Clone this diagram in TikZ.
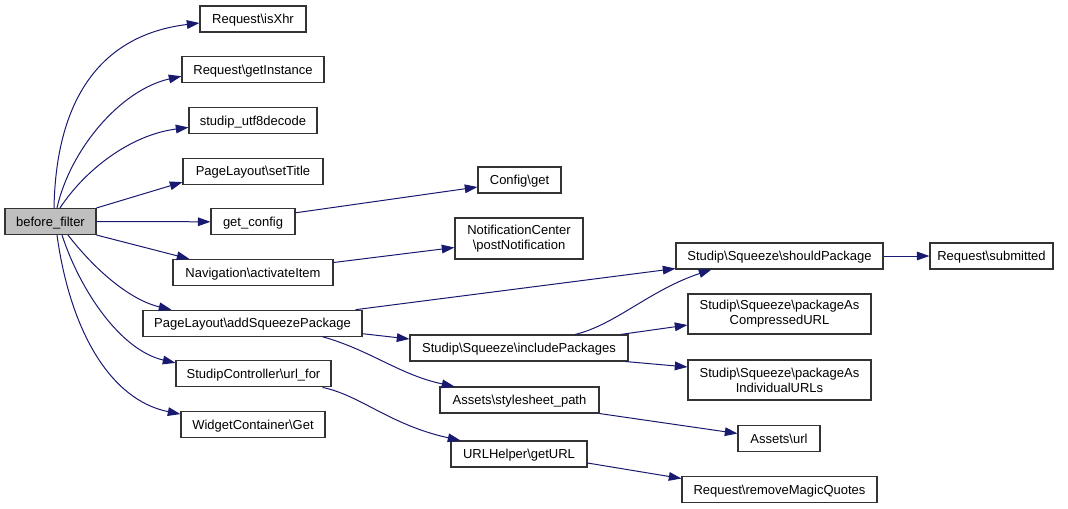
\documentclass[tikz,border=0pt]{standalone}
\usepackage{fontspec}
\setmainfont{Liberation Sans}
\usetikzlibrary{arrows.meta,calc}
\definecolor{edgec}{HTML}{191970}
\definecolor{bfgray}{HTML}{BFBFBF}
\newcommand{\bsl}{\textbackslash}
\begin{document}
\begin{tikzpicture}[x=0.75pt,y=-0.75pt,
  box/.style={draw=black!80, line width=0.8pt, inner sep=0pt, align=center,
    font=\fontsize{9.75}{11.2}\selectfont, minimum height=19.5pt},
  one/.style={box, text height=8pt, text depth=1pt},
  e/.style={draw=edgec, line width=0.75pt, -{Triangle[length=9.5pt,width=6.5pt]}, edgec}]
\useasboundingbox (0,0) rectangle (1068,508);
% nodes
\node[one, fill=bfgray, minimum width=68.25pt] (bf) at (50.5,221.5) {before\_filter};
\node[one, minimum width=79.5pt]  (isXhr) at (253,19) {Request\bsl isXhr};
\node[one, minimum width=106.5pt] (getInstance) at (253,69.7) {Request\bsl getInstance};
\node[one, minimum width=96pt]    (utf8) at (253,120.4) {studip\_utf8decode};
\node[one, minimum width=105pt]   (setTitle) at (253,171.1) {PageLayout\bsl setTitle};
\node[one, minimum width=63pt]    (getconfig) at (253,221.8) {get\_config};
\node[one, minimum width=120pt]   (activateItem) at (253,272.5) {Navigation\bsl activateItem};
\node[one, minimum width=164.25pt] (addSqueeze) at (252.5,323.2) {PageLayout\bsl addSqueezePackage};
\node[one, minimum width=116.25pt] (urlfor) at (253.5,373.9) {StudipController\bsl url\_for};
\node[one, minimum width=108pt]   (widget) at (253,424.6) {WidgetContainer\bsl Get};
\node[one, minimum width=62.25pt] (configget) at (519.5,180) {Config\bsl get};
\node[box, minimum width=96pt, minimum height=30.75pt] (postnotif) at (519,238.5) {NotificationCenter\\\bsl postNotification};
\node[one, minimum width=163.5pt] (include) at (519,348) {Studip\bsl Squeeze\bsl includePackages};
\node[one, minimum width=119.25pt] (stylesheet) at (519.5,400) {Assets\bsl stylesheet\_path};
\node[one, minimum width=102pt]   (getURL) at (519,454) {URLHelper\bsl getURL};
\node[one, minimum width=155.25pt] (should) at (779.5,256) {Studip\bsl Squeeze\bsl shouldPackage};
\node[one, minimum width=92.25pt] (submitted) at (991.5,256) {Request\bsl submitted};
\node[box, minimum width=137.25pt, minimum height=30pt] (compressed) at (779.5,314) {Studip\bsl Squeeze\bsl packageAs\\CompressedURL};
\node[box, minimum width=137.25pt, minimum height=30pt] (individual) at (779.5,380) {Studip\bsl Squeeze\bsl packageAs\\IndividualURLs};
\node[one, minimum width=61.5pt]  (assetsurl) at (779,438.5) {Assets\bsl url};
\node[one, minimum width=146.25pt] (removeMQ) at (779.5,489.5) {Request\bsl removeMagicQuotes};
% edges
\draw[e] ($(bf.north)+(3.5,0)$) .. controls (56,100) and (100,35) .. ($(isXhr.west)+(0,4)$);
\draw[e] ($(bf.north)+(6.5,0)$) .. controls (70,150) and (120,90) .. ($(getInstance.west)+(0,6.5)$);
\draw[e] ($(bf.north)+(9.5,0)$) .. controls (85,170) and (130,135) .. ($(utf8.west)+(0,7)$);
\draw[e] (bf.north east) -- ($(setTitle.west)+(0,11)$);
\draw[e] (bf.east) -- (getconfig.west);
\draw[e] (bf.south east) -- ($(activateItem.north west)+(17,0)$);
\draw[e] ($(bf.south)+(17.5,0)$) .. controls (95,270) and (130,300) .. ($(addSqueeze.north west)+(29,0)$);
\draw[e] ($(bf.south)+(11.5,0)$) .. controls (80,290) and (120,350) .. ($(urlfor.west)+(0,-11)$);
\draw[e] ($(bf.south)+(6.5,0)$) .. controls (70,330) and (110,400) .. ($(widget.west)+(0,-10.5)$);
\draw[e] ($(getconfig.east)+(0,-9)$) -- ($(configget.west)+(0,7)$);
\draw[e] ($(activateItem.east)+(0,-10)$) -- ($(postnotif.west)+(0,9)$);
\draw[e] ($(addSqueeze.north east)+(-7,0)$) -- ($(should.south west)+(0,-1)$);
\draw[e] ($(addSqueeze.east)+(0,10.5)$) -- ($(include.west)+(0,-9)$);
\draw[e] ($(addSqueeze.south east)+(-40,0)$) .. controls (370,350) and (400,375) .. ($(stylesheet.north west)+(15,0)$);
\draw[e] ($(include.north)+(56,0)$) .. controls (615,325) and (650,290) .. ($(should.south west)+(36,0)$);
\draw[e] ($(include.north east)+(-8,0)$) -- ($(compressed.west)+(0,11)$);
\draw[e] ($(include.south east)+(-3,0)$) -- ($(individual.west)+(0,-13)$);
\draw[e] ($(urlfor.south east)+(-9,0)$) .. controls (360,395) and (390,425) .. ($(getURL.north west)+(10,0)$);
\draw[e] (stylesheet.south east) -- ($(assetsurl.west)+(0,-5)$);
\draw[e] ($(getURL.east)+(0,9)$) -- ($(removeMQ.west)+(0,-11)$);
\draw[e] (should.east) -- (submitted.west);
\end{tikzpicture}
\end{document}
